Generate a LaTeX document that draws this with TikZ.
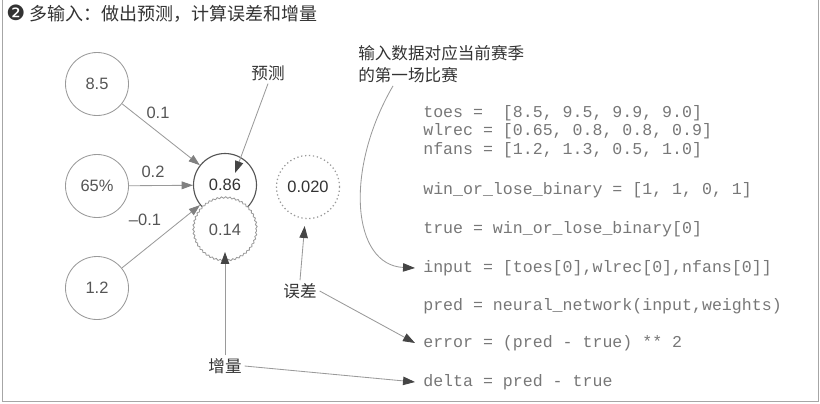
\documentclass[tikz,border=0pt]{standalone}
\usepackage{fontspec}
\setmainfont{Liberation Sans}
\setmonofont{Liberation Mono}
\newfontfamily\cjkfont{Noto Sans CJK SC}
\newfontfamily\symfont{DejaVu Sans}
\usepackage{xcolor}
\usetikzlibrary{arrows.meta,decorations.pathmorphing,calc}
\definecolor{inkgray}{HTML}{555555}
\definecolor{darkink}{HTML}{333333}
\definecolor{linegray}{HTML}{9A9A9A}
\definecolor{codegray}{HTML}{777777}
\definecolor{headgray}{HTML}{454545}
\tikzset{
  neuron/.style={circle, draw=linegray, line width=0.6pt, minimum size=44.8pt, inner sep=0pt,
    text=inkgray, font=\fontsize{11.7}{14}\selectfont},
  predneuron/.style={neuron, draw=inkgray, line width=0.8pt, text=darkink},
  deltaneuron/.style={neuron, fill=white, decorate, decoration={snake, amplitude=0.55pt, segment length=3pt}},
  errneuron/.style={neuron, line width=0.9pt, dash pattern=on 0.9pt off 1.9pt, text=darkink},
  wlabel/.style={inner sep=1pt, text=inkgray, font=\fontsize{11.7}{14}\selectfont},
  cnlabel/.style={inner sep=2pt, text=darkink, font=\cjkfont\fontsize{11.8}{15.6}\selectfont},
  codeline/.style={anchor=west, inner ysep=1pt, inner xsep=5.7pt, text=codegray,
    font=\ttfamily\fontsize{11.8}{14}\selectfont},
  wire/.style={draw=linegray, line width=0.6pt, -{Triangle[length=8pt,width=5.5pt,color=gray]}},
  pointer/.style={draw=linegray, line width=0.6pt, -{Triangle[length=8.5pt,width=6pt,color=headgray]}},
  frame/.style={draw=gray!70, line width=0.7pt},
}

\begin{document}
\begin{tikzpicture}[x=0.025cm, y=-0.025cm]
  \useasboundingbox (0,0) rectangle (820,403);

  % frame and title
  \draw[frame] (2,0) -- (2,401) -- (818,401) -- (818,0);
  \node[anchor=west, inner sep=0pt, text=darkink, font=\cjkfont\fontsize{12.8}{15}\selectfont] (title) at (6,14)
    {{\symfont\fontsize{15}{15}\selectfont ❷}\hspace{3pt}多输入：做出预测，计算误差和增量};

  % inputs
  \node[neuron] (toesin) at (97,84) {8.5};
  \node[neuron] (wlrecin) at (97,186) {65\%};
  \node[neuron] (nfansin) at (97,288) {1.2};

  % prediction, delta, error
  \node[predneuron] (pred) at (225,185) {0.86};
  \node[deltaneuron] (delta) at (225,230) {0.14};
  \node[errneuron] (err) at (308,187) {0.020};

  % weights
  \draw[wire] (toesin) -- (pred);
  \draw[wire] (wlrecin) -- (pred);
  \draw[wire] (nfansin) -- (pred);
  \node[wlabel] (w1) at (158,113) {0.1};
  \node[wlabel] (w2) at (153,172) {0.2};
  \node[wlabel] (w3) at (145,220) {–0.1};

  % code
  \node[codeline] (toesline) at (415,113) {toes =\ \ [8.5, 9.5, 9.9, 9.0]};
  \node[codeline] (wlrecline) at (415,131) {wlrec = [0.65, 0.8, 0.8, 0.9]};
  \node[codeline] (nfansline) at (415,150) {nfans = [1.2, 1.3, 0.5, 1.0]};
  \node[codeline] (winline) at (415,190) {win\_or\_lose\_binary = [1, 1, 0, 1]};
  \node[codeline] (trueline) at (415,229) {true = win\_or\_lose\_binary[0]};
  \node[codeline] (inputline) at (415,268) {input = [toes[0],wlrec[0],nfans[0]]};
  \node[codeline] (predline) at (415,306) {pred = neural\_network(input,weights)};
  \node[codeline] (errline) at (415,343) {error = (pred - true) ** 2};
  \node[codeline] (deltaline) at (415,382) {delta = pred - true};

  % notes
  \node[cnlabel] (lpred) at (268,73) {预测};
  \node[cnlabel] (lerr) at (300,291) {误差};
  \node[cnlabel] (ldelta) at (225,366) {增量};
  \node[cnlabel, inner sep=0pt, align=left, anchor=north west] (note) at (358,45)
    {输入数据对应当前赛季\\的第一场比赛};

  \draw[pointer] (lpred.south) -- ($(pred.center)+(10,-12)$);
  \draw[pointer] (ldelta.north) -- ($(delta.center)+(0,22)$);
  \draw[pointer, shorten >=5pt] (lerr.north) -- (err);
  \draw[pointer] (lerr.east) -- (errline.west);
  \draw[pointer] (ldelta.east) -- (deltaline.west);
  \draw[pointer] ($(note.south west)+(35,3)$) .. controls (344,170) and (352,265) .. (inputline.west);

\end{tikzpicture}
\end{document}
